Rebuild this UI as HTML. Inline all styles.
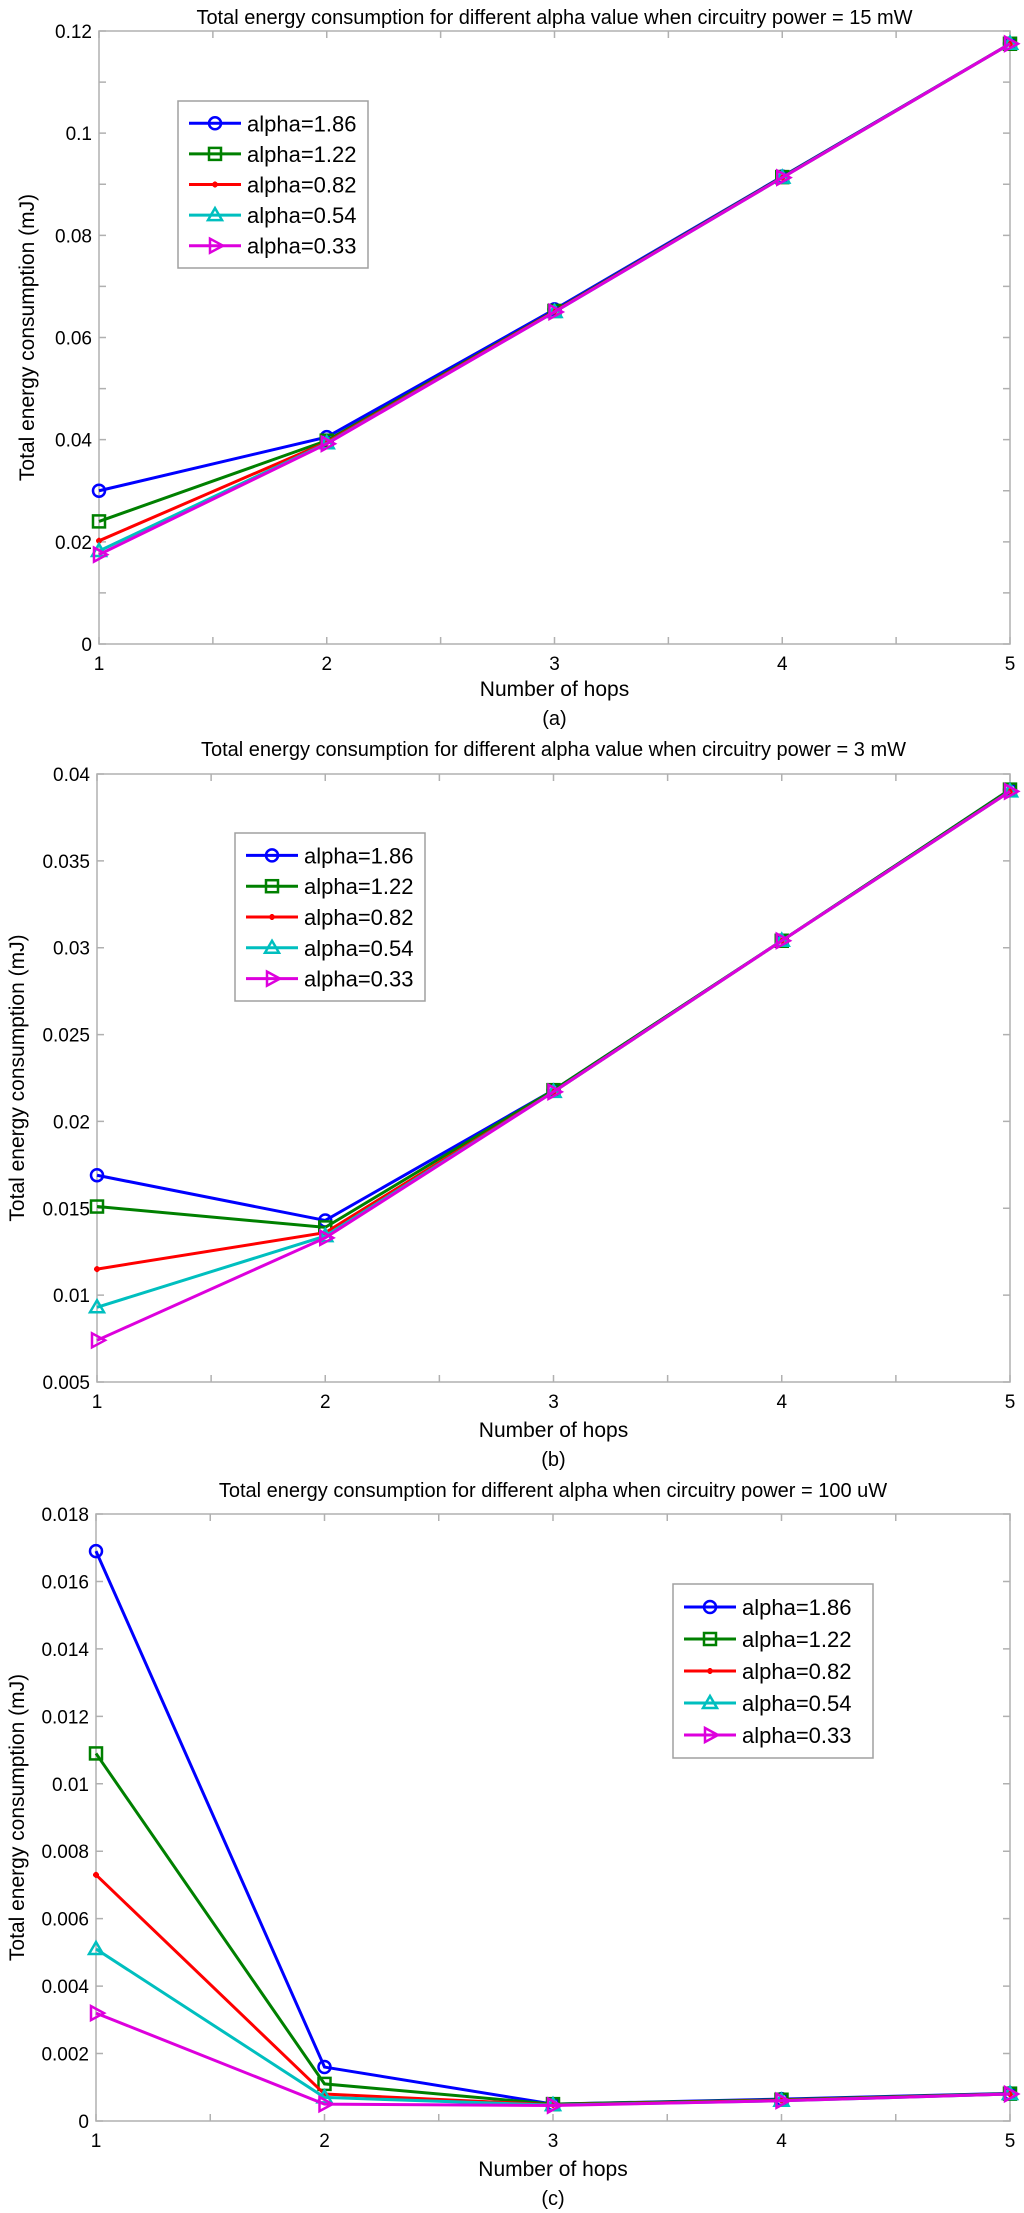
<!DOCTYPE html>
<html><head><meta charset="utf-8">
<style>
html,body{margin:0;padding:0;background:#fff;}
svg{display:block;font-family:"Liberation Sans",Arial,sans-serif;}
</style></head>
<body>
<svg id="fig" width="1024" height="2213" viewBox="0 0 1024 2213" xmlns="http://www.w3.org/2000/svg"></svg>
<script>
const hops = [1, 2, 3, 4, 5];
const seriesLabels = ["alpha=1.86", "alpha=1.22", "alpha=0.82", "alpha=0.54", "alpha=0.33"];
const aValues = [
  [0.0300, 0.0405, 0.0655, 0.0915, 0.1175],
  [0.0240, 0.0398, 0.0652, 0.0914, 0.1175],
  [0.0202, 0.0395, 0.0651, 0.0913, 0.1175],
  [0.0182, 0.0393, 0.0650, 0.0913, 0.1175],
  [0.0175, 0.0392, 0.0650, 0.0913, 0.1175]
];
const bValues = [
  [0.0169, 0.0143, 0.0218, 0.0304, 0.0391],
  [0.0151, 0.0139, 0.0218, 0.0304, 0.0391],
  [0.0115, 0.0136, 0.0217, 0.0304, 0.0390],
  [0.0093, 0.0134, 0.0217, 0.0304, 0.0390],
  [0.0074, 0.0133, 0.0217, 0.0304, 0.0390]
];
const cValues = [
  [0.0169, 0.0016, 0.00050, 0.00065, 0.00082],
  [0.0109, 0.0011, 0.00050, 0.00063, 0.00081],
  [0.0073, 0.0008, 0.00048, 0.00061, 0.00080],
  [0.0051, 0.0007, 0.00047, 0.00060, 0.00080],
  [0.0032, 0.0005, 0.00046, 0.00060, 0.00080]
];
const aTicks = ["0","0.02","0.04","0.06","0.08","0.1","0.12"];
const bTicks = ["0.005","0.01","0.015","0.02","0.025","0.03","0.035","0.04"];
const cTicks = ["0","0.002","0.004","0.006","0.008","0.01","0.012","0.014","0.016","0.018"];
const colors = ["#0000ff","#008000","#ff0000","#00bfbf","#dd00dd"];
const markers = ["circle","square","star","triangle","tri-right"];

const NS = "http://www.w3.org/2000/svg";
const svg = document.getElementById("fig");
function mk(tag, attrs, parent){
  const e = document.createElementNS(NS, tag);
  for (const k in attrs) e.setAttribute(k, attrs[k]);
  (parent || svg).appendChild(e);
  return e;
}
function marker(g, type, x, y, col){
  let m;
  if (type === "circle") m = mk("circle",{cx:x,cy:y,r:6,fill:"none",stroke:col,"stroke-width":2.5},g);
  else if (type === "square") m = mk("rect",{x:x-6,y:y-6,width:12,height:12,fill:"none",stroke:col,"stroke-width":2.5},g);
  else if (type === "star") m = mk("path",{d:`M${x-3},${y}H${x+3}M${x},${y-3}V${y+3}M${x-2},${y-2}L${x+2},${y+2}M${x-2},${y+2}L${x+2},${y-2}`,stroke:col,"stroke-width":2},g);
  else if (type === "triangle") m = mk("path",{d:`M${x},${y-7}L${x+7},${y+5}L${x-7},${y+5}Z`,fill:"none",stroke:col,"stroke-width":2.5},g);
  else m = mk("path",{d:`M${x-5},${y-7}L${x+8},${y}L${x-5},${y+7}Z`,fill:"none",stroke:col,"stroke-width":2.5},g);
  
  
}

function chart(cfg){
  const g = mk("g",{});
  
  
  const L=cfg.left,R=cfg.right,T=cfg.top,B=cfg.bottom;
  const xs = v => L + (v-1)/(4)*(R-L);
  const ys = v => B - (v-cfg.ymin)/(cfg.ymax-cfg.ymin)*(B-T);
  const frame = mk("rect",{x:L,y:T,width:R-L,height:B-T,fill:"#fff",stroke:"#b0b0b0","stroke-width":1.5},g);
  
  
  for (let v=1; v<=5.001; v+=0.5){
    const x=xs(v);
    const t=mk("path",{d:`M${x},${B}v-7M${x},${T}v7`,stroke:"#b0b0b0","stroke-width":1.5},g);
    
    
  }
  hops.forEach(h=>{
    const t=mk("text",{x:xs(h),y:B+26,"text-anchor":"middle","font-size":19},g);
    t.textContent=h;
    
    
  });
  cfg.ticks.forEach(lbl=>{
    const v=parseFloat(lbl), y=ys(v);
    const t=mk("path",{d:`M${L},${y}h7M${R},${y}h-7`,stroke:"#b0b0b0","stroke-width":1.5},g);
    
    
    const tx=mk("text",{x:L-7,y:y+7,"text-anchor":"end","font-size":19},g);
    tx.textContent=lbl;
    
    
  });
  (cfg.minor||[]).forEach(v=>{
    const y=ys(v);
    const t=mk("path",{d:`M${L},${y}h7M${R},${y}h-7`,stroke:"#b0b0b0","stroke-width":1.5},g);
    
    
  });
  cfg.values.forEach((vals,i)=>{
    const pts = vals.map((v,j)=>`${xs(hops[j])},${ys(v)}`).join(" ");
    const sg = mk("g",{},g);
    
    
    const pl = mk("polyline",{points:pts,fill:"none",stroke:colors[i],"stroke-width":3},sg);
    
    
    vals.forEach((v,j)=>marker(sg,markers[i],xs(hops[j]),ys(v),colors[i]));
  });
  const lg = mk("g",{},g);
  
  
  const [lx,ly,lw,lh]=cfg.legend;
  mk("rect",{x:lx,y:ly,width:lw,height:lh,fill:"#fff",stroke:"#a0a0a0","stroke-width":1.5},lg);
  const step=(lh-14)/5;
  seriesLabels.forEach((s,i)=>{
    const y=ly+7+step*(i+0.5);
    const e=mk("g",{},lg);
    
    
    mk("line",{x1:lx+11,y1:y,x2:lx+63,y2:y,stroke:colors[i],"stroke-width":3},e);
    marker(e,markers[i],lx+37,y,colors[i]);
    const t=mk("text",{x:lx+69,y:y+8,"font-size":cfg.legendFont},e);
    t.textContent=s;
  });
  const title=mk("text",{x:(L+R)/2,y:cfg.titleY,"text-anchor":"middle","font-size":20},g);
  title.textContent=cfg.title;
  
  
  const xl=mk("text",{x:(L+R)/2,y:B+cfg.xlOff,"text-anchor":"middle","font-size":21},g);
  xl.textContent="Number of hops";
  
  
  const cap=mk("text",{x:(L+R)/2,y:B+cfg.xlOff+29,"text-anchor":"middle","font-size":20},g);
  cap.textContent=cfg.caption;
  
  
  const yl=mk("text",{x:0,y:0,"text-anchor":"middle","font-size":21,transform:`translate(${cfg.ylabelX},${(T+B)/2}) rotate(-90)`},g);
  yl.textContent="Total energy consumption (mJ)";
  
  
}

chart({name:"chart-a",left:99,right:1010,top:31,bottom:644,ymin:0,ymax:0.12,ticks:aTicks,
  minor:[0.01,0.03,0.05,0.07,0.09,0.11],values:aValues,legend:[178,101,190,167],legendFont:22,
  title:"Total energy consumption for different alpha value when circuitry power = 15 mW",titleY:24,caption:"(a)",ylabelX:34,xlOff:52});
chart({name:"chart-b",left:97,right:1010,top:774,bottom:1382,ymin:0.005,ymax:0.04,ticks:bTicks,
  values:bValues,legend:[235,833,190,168],legendFont:22,
  title:"Total energy consumption for different alpha value when circuitry power = 3 mW",titleY:756,caption:"(b)",ylabelX:24,xlOff:55});
chart({name:"chart-c",left:96,right:1010,top:1514,bottom:2121,ymin:0,ymax:0.018,ticks:cTicks,
  values:cValues,legend:[673,1584,200,174],legendFont:22,
  title:"Total energy consumption for different alpha when circuitry power = 100 uW",titleY:1497,caption:"(c)",ylabelX:24,xlOff:55});
</script>
</body></html>
